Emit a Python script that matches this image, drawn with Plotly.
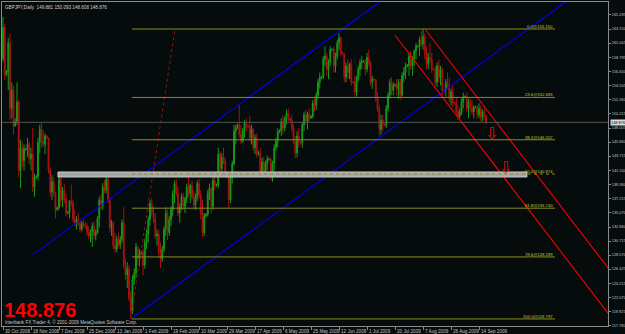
import plotly.graph_objects as go

# ---------------- data ----------------
first_open = 158.6
highs = [165.0,163.9,156.9,161.8,162.5,155.0,154.5,149.5,155.0,152.3,146.2,146.0,145.5,145.0,146.5,146.0,145.0,148.0,141.0,140.8,
         146.5,148.5,148.8,147.7,147.2,146.9,146.5,142.0,140.8,140.5,138.2,136.0,141.3,140.5,139.0,139.5,138.0,135.3,137.0,139.3,
         137.0,135.5,134.5,135.0,134.0,133.8,134.0,133.6,133.5,133.0,132.5,133.5,133.8,132.5,134.5,137.5,137.8,139.6,140.0,141.3,
         140.5,137.2,134.0,133.8,132.0,131.5,132.0,131.5,134.0,135.9,128.0,127.5,127.0,123.0,125.5,126.5,130.4,130.0,129.5,129.2,
         129.5,131.0,132.5,134.5,137.0,137.3,136.0,135.0,132.5,132.4,130.5,130.0,133.0,135.9,135.5,134.5,136.0,138.5,140.0,140.2,
         139.0,136.5,138.0,138.0,137.5,139.5,140.5,139.5,140.0,138.5,138.0,140.0,140.2,138.5,137.0,135.0,135.0,138.5,139.5,139.0,
         140.5,141.2,139.5,145.0,144.5,144.2,145.0,143.5,141.0,140.5,141.0,143.0,148.5,148.5,148.7,151.5,148.5,148.0,149.2,149.5,
         148.5,149.8,148.5,148.0,147.0,147.2,144.5,145.0,143.5,143.6,143.0,143.8,143.5,143.5,143.0,145.5,146.5,148.0,147.8,149.5,
         150.0,149.8,150.8,151.0,149.5,150.0,148.5,146.8,147.5,148.0,145.9,149.0,150.5,150.8,150.5,151.0,150.0,152.3,152.5,153.5,
         155.5,156.5,156.0,159.0,160.5,159.5,158.5,160.5,160.2,160.5,159.5,161.5,162.5,162.0,159.7,159.5,158.0,158.5,158.0,158.5,
         155.2,156.0,156.0,157.5,158.5,159.0,158.4,158.5,159.5,160.0,158.2,156.0,155.6,155.5,153.5,151.5,150.0,150.0,148.7,151.5,
         153.5,155.5,155.8,155.0,154.8,155.5,155.5,155.5,156.5,157.3,158.0,157.8,159.5,159.8,159.0,160.0,161.0,160.7,162.0,162.8,
         163.15,162.5,160.5,159.5,161.0,159.5,157.2,157.5,158.0,158.5,157.5,157.3,154.0,155.5,156.5,155.8,154.0,154.5,152.0,152.7,
         151.5,151.0,152.5,153.4,153.0,153.4,152.5,152.5,152.3,151.5,151.4,151.5,151.8,151.5,150.8,151.2,150.093]
lows = [158.1,155.4,155.9,153.8,149.2,149.5,147.0,148.2,148.5,140.5,138.8,142.0,141.5,144.5,143.6,142.5,141.5,138.2,137.5,140.2,
        140.0,144.2,145.0,145.1,144.0,146.3,141.1,137.5,137.0,137.5,134.2,135.3,135.5,136.0,135.9,136.5,134.5,134.8,134.2,136.0,
        133.6,133.0,132.5,133.0,132.0,132.2,132.8,132.6,131.5,131.0,130.5,129.8,131.0,130.8,131.8,132.8,135.5,135.5,138.0,138.0,
        136.5,132.0,131.5,129.5,128.9,129.0,129.8,129.5,130.5,126.5,124.8,123.5,121.5,118.797,119.5,124.0,125.0,127.0,126.8,128.6,
        125.5,126.5,129.5,130.5,133.0,134.5,133.5,131.0,130.0,128.5,126.6,127.5,129.0,131.5,130.9,131.5,133.0,134.5,136.5,137.5,
        134.5,133.5,135.5,135.5,135.0,136.5,137.5,136.5,137.0,135.8,135.5,136.8,137.2,134.0,131.3,131.5,134.3,134.5,137.0,135.0,
        135.5,138.5,139.0,138.8,141.0,141.0,142.5,140.5,140.3,135.8,136.5,139.5,142.3,145.5,147.8,146.5,145.5,145.7,146.5,147.5,
        148.0,146.0,145.5,144.5,144.0,143.5,143.8,140.5,140.5,140.8,140.5,141.5,143.0,140.0,139.8,141.5,144.5,145.0,147.2,146.8,
        147.0,147.5,148.5,149.0,149.0,147.5,145.5,143.4,143.5,145.0,145.4,145.0,147.5,148.5,147.8,149.0,149.5,149.5,150.5,150.8,
        152.5,154.0,155.5,155.5,157.5,156.0,155.5,157.5,159.8,156.5,156.5,158.5,160.0,159.0,159.2,155.0,155.0,155.5,155.5,154.5,
        154.8,153.0,152.8,155.0,156.0,157.0,158.0,156.0,156.5,157.5,154.5,154.0,155.2,152.0,150.5,146.8,147.0,147.5,148.3,148.0,
        150.5,152.5,153.0,153.0,154.3,153.0,152.5,152.3,152.8,155.0,155.5,157.3,156.0,157.0,156.0,157.5,158.5,160.3,159.0,160.5,
        160.0,158.5,157.0,157.0,158.0,156.4,156.8,154.5,154.3,155.0,154.5,153.0,153.5,152.8,154.0,152.0,151.5,151.2,151.6,150.0,
        149.2,149.5,150.0,151.0,152.6,150.5,149.5,150.5,150.0,149.5,151.0,149.5,149.5,149.0,149.0,149.2,148.608]
closes = [163.4,156.2,156.5,161.0,151.0,153.8,148.3,149.0,152.0,141.5,145.0,143.0,144.8,144.8,145.5,143.3,144.0,139.0,140.5,140.6,
          145.8,147.8,146.0,145.5,146.8,146.5,141.6,138.2,139.8,138.0,135.5,135.8,140.2,137.0,138.5,137.2,135.0,135.1,136.8,136.5,
          134.0,133.5,134.0,133.3,132.5,133.5,133.2,133.0,132.0,131.5,132.2,133.0,131.6,132.0,134.2,137.0,136.2,139.0,138.5,140.2,
          137.0,132.8,133.5,130.0,129.5,131.0,130.2,131.0,133.5,127.0,125.5,126.5,122.0,120.0,124.8,125.8,129.8,128.0,129.0,129.0,
          127.0,130.5,131.8,134.0,136.5,135.0,134.2,131.5,131.8,129.0,128.0,129.5,132.5,135.0,132.0,134.0,135.5,138.0,139.5,138.0,
          135.0,136.0,137.5,136.0,137.2,139.0,138.0,139.2,137.5,136.2,137.5,139.5,137.8,134.8,132.0,134.5,134.8,138.0,138.8,136.0,
          140.0,139.2,139.3,144.0,141.8,143.5,143.0,141.0,140.5,137.0,140.5,142.5,147.5,148.0,148.5,147.0,146.0,147.5,148.8,148.3,
          148.2,146.5,147.8,145.0,146.5,144.0,144.2,141.0,142.8,141.2,142.5,143.2,143.2,140.5,142.6,145.0,146.0,147.5,147.5,149.0,
          148.0,149.5,150.3,149.5,149.2,148.0,146.0,144.2,146.8,145.8,145.7,148.5,150.0,149.0,150.2,149.5,149.8,151.8,151.5,153.0,
          155.0,155.8,155.8,158.5,159.0,157.0,158.0,160.0,160.0,157.5,159.0,161.0,161.8,159.5,159.4,155.8,157.5,156.5,157.8,155.0,
          155.0,153.5,155.5,157.0,158.0,158.2,158.2,157.0,158.8,158.0,155.0,155.5,155.4,152.8,151.0,147.8,149.2,148.5,148.5,151.0,
          153.0,155.0,153.8,154.5,154.6,154.0,155.0,153.0,156.0,156.5,157.5,157.6,159.0,157.5,158.5,159.8,160.5,160.5,161.5,160.8,
          162.0,159.5,157.8,158.8,158.5,157.0,157.0,155.0,157.5,155.8,157.0,153.8,153.8,155.0,154.5,152.5,153.5,151.8,151.8,150.5,
          149.8,150.5,152.0,152.8,152.8,151.0,152.0,151.0,150.5,151.2,151.2,150.0,151.0,149.6,150.5,149.881,148.876]
opens = [first_open] + closes[:-1]
bars = list(range(len(closes)))

date_labels = ["30 Oct 2008", "18 Nov 2008", "7 Dec 2008", "25 Dec 2008", "13 Jan 2009", "1 Feb 2009",
               "19 Feb 2009", "10 Mar 2009", "29 Mar 2009", "17 Apr 2009", "6 May 2009", "25 May 2009",
               "12 Jun 2009", "1 Jul 2009", "20 Jul 2009", "7 Aug 2009", "26 Aug 2009", "14 Sep 2009"]
bars_per_label = 16
date_tick_bars = [k * bars_per_label for k in range(len(date_labels))]

price_ticks = [165.295, 163.150, 161.005, 158.795, 156.650, 154.505, 152.360, 150.215, 148.005, 145.860,
               143.715, 141.500, 139.360, 137.215, 135.070, 132.860, 130.715, 128.570, 126.425, 124.215,
               122.070, 119.925, 117.780]
last_price = 148.876
header_text = "GBPJPY,Daily  149.881 150.093 148.608 148.876"
footer_text = "Interbank FX Trader 4, © 2001-2009 MetaQuotes Software Corp."

fib_high = 163.150
fib_low = 118.797
fib_levels = [0.0, 23.6, 38.2, 50.0, 61.8, 78.6, 100.0]
fib_span = [73.7, 315.4]
fib_trend_bars = [73, 98.3]

blue_base = [(73, 118.797), (229, 149.25)]
blue_parallel_start = (17, 128.6)
red_base = [(241.5, 163.0), (281, 149.2)]
red_parallel_start = (224, 162.2)
zone_bars = [31.4, 299.4]
zone_prices = [140.51, 141.28]
arrow_pts = [(279.4, 147.24), (287.4, 141.89)]

# ---------------- figure ----------------
X_RANGE = [-0.57, 345.7]
Y_RANGE = [117.72, 167.28]
BG = "#060b0b"
TXT = "#c4c4c4"
SMALL = 4.6
AXIS_SMALL = 3.9
FONT = "Liberation Sans, Arial, sans-serif"

fig = go.Figure()
fig.add_trace(go.Candlestick(
    x=bars, open=opens, high=highs, low=lows, close=closes,
    increasing=dict(line=dict(color="#169a16", width=1), fillcolor="#169a16"),
    decreasing=dict(line=dict(color="#a81212", width=1), fillcolor="#a81212"),
    whiskerwidth=0, hoverinfo="skip", showlegend=False))

def ray(p1, p2, start=None, x_end=350):
    slope = (p2[1] - p1[1]) / (p2[0] - p1[0])
    if start is None:
        start = p1
    return [start[0], x_end], [start[1], start[1] + slope * (x_end - start[0])]

for (xs, ys), col in [(ray(*blue_base), "#0000ff"),
                      (ray(*blue_base, start=blue_parallel_start), "#0000ff"),
                      (ray(*red_base, x_end=360), "#ff0000"),
                      (ray(*red_base, start=red_parallel_start, x_end=360), "#ff0000")]:
    fig.add_trace(go.Scatter(x=xs, y=ys, mode="lines", line=dict(color=col, width=1.1),
                             hoverinfo="skip", showlegend=False))

fig.add_trace(go.Scatter(x=fib_trend_bars, y=[fib_low, fib_high], mode="lines",
                         line=dict(color="#a01010", width=1, dash="dot"),
                         hoverinfo="skip", showlegend=False))

shapes = []
shapes.append(dict(type="line", xref="paper", x0=0, x1=1, yref="y", y0=last_price, y1=last_price,
                   line=dict(color="#555555", width=1)))
shapes.append(dict(type="rect", xref="x", yref="y", x0=zone_bars[0], x1=zone_bars[1],
                   y0=zone_prices[0], y1=zone_prices[1], fillcolor="#a6a6a6",
                   line=dict(color="#c4c4c4", width=1), layer="above"))
annotations = []
for lvl in fib_levels:
    price = fib_high - (fib_high - fib_low) * lvl / 100.0
    shapes.append(dict(type="line", xref="x", yref="y", x0=fib_span[0], x1=fib_span[1], y0=price, y1=price,
                       line=dict(color="#8c8c1c", width=1, dash="solid" if lvl != 50.0 else "dot"),
                       layer="above"))
    annotations.append(dict(x=fib_span[1], y=price, xref="x", yref="y", text=f"{lvl:.1f}@{price:.3f}",
                            showarrow=False, xanchor="right", yanchor="bottom", yshift=-2,
                            font=dict(size=4.2, color="#c8c83a", family=FONT)))

for ax_, ay_ in arrow_pts:
    annotations.append(dict(x=ax_, y=ay_, xref="x", yref="y", text="⇩", showarrow=False,
                            font=dict(size=16, color="#e01010", family="DejaVu Sans")))

for b, lab in zip(date_tick_bars, date_labels):
    annotations.append(dict(x=b, y=0, xref="x", yref="paper", text=lab, showarrow=False,
                            xanchor="left", yanchor="top", xshift=0, yshift=-1,
                            font=dict(size=SMALL, color=TXT, family=FONT)))

annotations.append(dict(x=1, y=last_price, xref="paper", yref="y", text=f"{last_price:.3f}",
                        showarrow=False, xanchor="left", xshift=2, bgcolor="#dcdcdc", borderpad=0,
                        font=dict(size=AXIS_SMALL, color="#000000", family=FONT)))
annotations.append(dict(x=0, y=1, xref="paper", yref="paper", text=header_text, showarrow=False,
                        xanchor="left", yanchor="top", xshift=1, yshift=-1,
                        font=dict(size=SMALL, color="#d0d0d0", family=FONT)))
annotations.append(dict(x=0, y=0, xref="paper", yref="paper", text=f"{last_price:.3f}", showarrow=False,
                        xanchor="left", yanchor="bottom", xshift=0, yshift=3,
                        font=dict(size=20, color="#ff0000", family="Liberation Sans, Arial Black, sans-serif",
                                  weight="bold")))
annotations.append(dict(x=0, y=0, xref="paper", yref="paper", text=footer_text, showarrow=False,
                        xanchor="left", yanchor="bottom", xshift=1, yshift=-1,
                        font=dict(size=SMALL, color="#c8c8c8", family=FONT)))

fig.update_layout(
    width=625, height=334, autosize=False,
    margin=dict(l=2, r=17, t=2, b=8, pad=0),
    paper_bgcolor=BG, plot_bgcolor=BG,
    shapes=shapes, annotations=annotations, showlegend=False,
    xaxis=dict(range=X_RANGE, rangeslider=dict(visible=False), showgrid=False, zeroline=False,
               tickvals=date_tick_bars, showticklabels=False, ticks="outside", ticklen=3,
               tickcolor="#8a8a8a", showline=True, linecolor="#8a8a8a", mirror=True, linewidth=1,
               fixedrange=True),
    yaxis=dict(range=Y_RANGE, side="right", showgrid=False, zeroline=False,
               tickvals=price_ticks, ticktext=[f"{v:.3f}" for v in price_ticks],
               ticks="outside", ticklen=2, tickcolor="#8a8a8a",
               tickfont=dict(size=AXIS_SMALL, color=TXT, family=FONT),
               showline=True, linecolor="#8a8a8a", mirror=True, linewidth=1,
               automargin=False, fixedrange=True),
)
fig.write_html("out.html", config={"displayModeBar": False})
